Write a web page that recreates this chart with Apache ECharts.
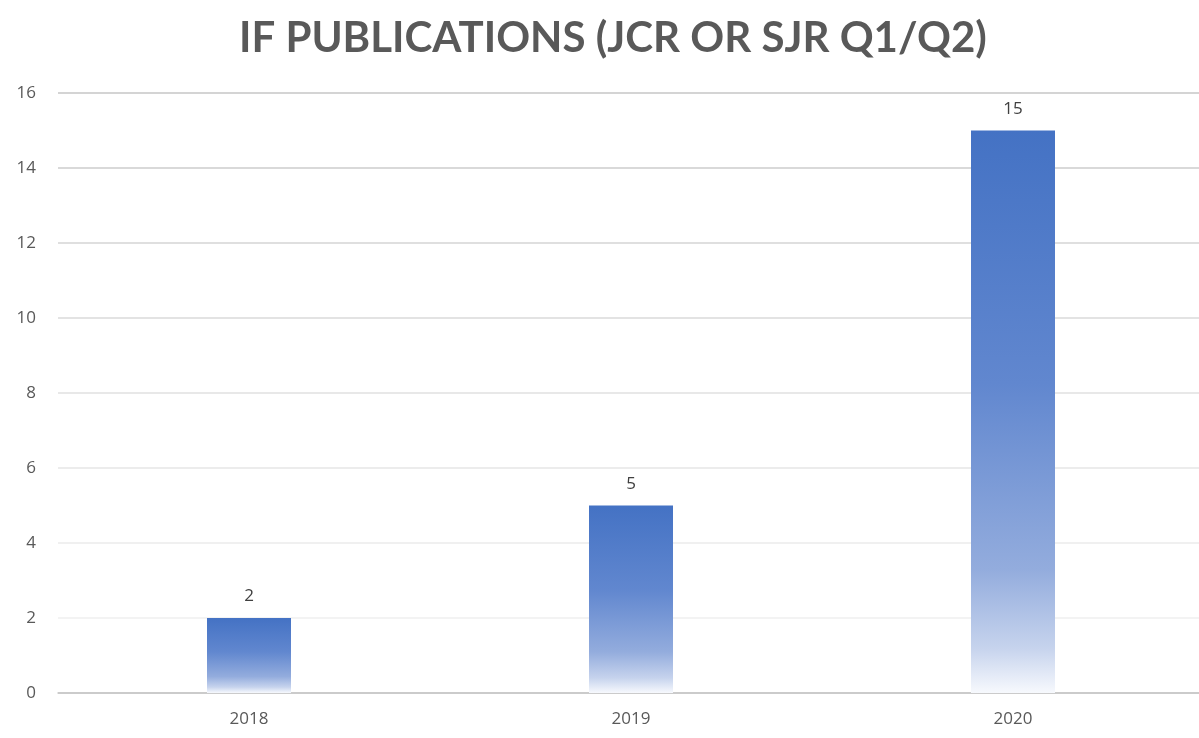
<!DOCTYPE html>
<html>
<head>
<meta charset="utf-8">
<script src="https://cdn.jsdelivr.net/npm/echarts@6/dist/echarts.min.js"></script>
<style>
  html, body { margin: 0; padding: 0; background: #fff; }
  #chart { width: 1199px; height: 738px; }
</style>
</head>
<body>
<div id="chart"></div>
<script>
var years = ['2018', '2019', '2020'];
var publications = [2, 5, 15];
var yTicks = { min: 0, max: 16, step: 2 };

// gridlines get darker toward the top, like the original
var gridColors = ['#c8c8c8', '#efefef', '#ebebeb', '#e6e6e6', '#e0e0e0', '#dadada', '#d4d4d4', '#cdcdcd', '#c6c6c6'];

var barFill = new echarts.graphic.LinearGradient(0, 0, 0, 1, [
    { offset: 0, color: '#4472C4' },
    { offset: 0.45, color: '#6187cf' },
    { offset: 0.78, color: '#93acdd' },
    { offset: 0.92, color: '#c6d3ed' },
    { offset: 1, color: '#f7f9fd' }
]);

var myChart = echarts.init(document.getElementById('chart'));

var option = {
    animation: false,
    title: {
        text: 'IF PUBLICATIONS (JCR OR SJR Q1/Q2)',
        left: 234,
        top: 12,
        textStyle: {
            fontFamily: 'Lato',
            fontWeight: 'bold',
            fontSize: 42,
            color: '#595959'
        }
    },
    grid: {
        left: 58,
        right: -5,
        top: 93,
        bottom: 45,
        outerBoundsMode: 'none'
    },
    xAxis: {
        type: 'category',
        data: years,
        axisLine: { lineStyle: { color: '#c8c8c8', width: 1.5 } },
        axisTick: { show: false },
        axisLabel: {
            margin: 18,
            fontFamily: 'Open Sans',
            fontSize: 17,
            color: '#595959'
        }
    },
    yAxis: {
        type: 'value',
        min: yTicks.min,
        max: yTicks.max,
        interval: yTicks.step,
        axisLine: { show: false },
        axisTick: { show: false },
        axisLabel: {
            margin: 22,
            fontFamily: 'Open Sans',
            fontSize: 17,
            color: '#595959'
        },
        splitLine: { lineStyle: { color: gridColors, width: 1.5 } }
    },
    series: [{
        type: 'bar',
        data: publications,
        barWidth: 84,
        itemStyle: { color: barFill },
        label: {
            show: true,
            position: 'top',
            distance: 13,
            fontFamily: 'Open Sans',
            fontSize: 17,
            color: '#404040'
        }
    }]
};

myChart.setOption(option);
</script>
</body>
</html>
